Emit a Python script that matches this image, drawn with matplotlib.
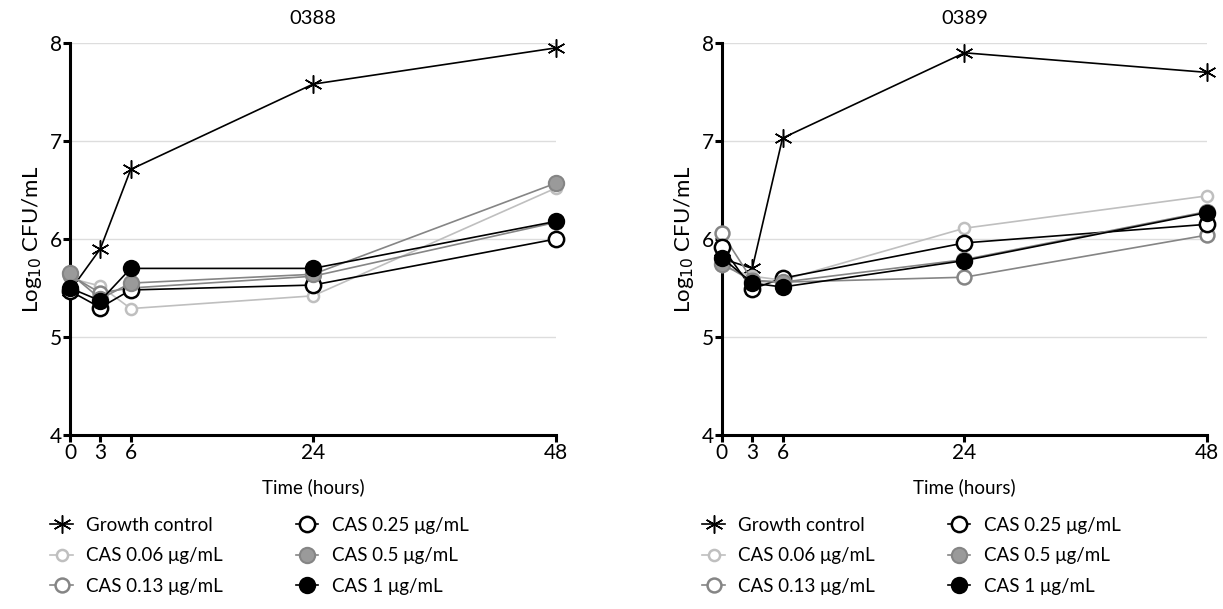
import matplotlib.pyplot as plt

plt.rcParams['font.family'] = ['Lato', 'DejaVu Sans']

# sampling times (hours)
times = [0, 3, 6, 24, 48]

labels = ["Growth control", "CAS 0.06 \u03bcg/mL", "CAS 0.13 \u03bcg/mL",
          "CAS 0.25 \u03bcg/mL", "CAS 0.5 \u03bcg/mL", "CAS 1 \u03bcg/mL"]

# isolate 0388, log10 CFU/mL
s0388_growth = [5.47, 5.90, 6.71, 7.58, 7.95]
s0388_cas006 = [5.60, 5.52, 5.29, 5.42, 6.52]
s0388_cas013 = [5.63, 5.45, 5.50, 5.62, 6.17]
s0388_cas025 = [5.47, 5.30, 5.48, 5.53, 6.00]
s0388_cas05 = [5.65, 5.39, 5.55, 5.64, 6.57]
s0388_cas1 = [5.50, 5.37, 5.70, 5.70, 6.18]

# isolate 0389
s0389_growth = [5.80, 5.70, 7.03, 7.90, 7.70]
s0389_cas006 = [5.72, 5.62, 5.58, 6.11, 6.44]
s0389_cas013 = [6.06, 5.58, 5.56, 5.61, 6.04]
s0389_cas025 = [5.92, 5.49, 5.60, 5.96, 6.15]
s0389_cas05 = [5.75, 5.57, 5.56, 5.79, 6.28]
s0389_cas1 = [5.81, 5.55, 5.51, 5.78, 6.27]

LIGHT = "#bfbfbf"
MID = "#858585"
DARK = "#9a9a9a"

# (color, marker, facecolor, markersize, edgewidth)
styles = [
    ("black", (6, 2, 0), "black", 13, 1.1),
    (LIGHT, "o", "white", 8, 1.8),
    (MID, "o", "white", 10, 1.8),
    ("black", "o", "white", 11, 1.8),
    (MID, "o", DARK, 11, 1.5),
    ("black", "o", "black", 11, 1.5),
]


def draw_panel(ax, title, series):
    for ys, lab, (c, m, fc, ms, mew) in zip(series, labels, styles):
        ax.plot(times, ys, color=c, lw=1.2, marker=m, markerfacecolor=fc,
                markeredgecolor=c, markersize=ms, markeredgewidth=mew,
                label=lab, clip_on=False, zorder=3)
    ax.set_xlim(0, 48)
    ax.set_ylim(4, 8)
    ax.set_xticks(times)
    ax.set_yticks([4, 5, 6, 7, 8])
    ax.yaxis.grid(True, color="#dddddd", lw=1)
    ax.set_axisbelow(True)
    for side in ["top", "right"]:
        ax.spines[side].set_visible(False)
    for side in ["left", "bottom"]:
        ax.spines[side].set_linewidth(2.2)
    ax.tick_params(width=2.2, length=5, labelsize=15, pad=1)
    ax.set_title(title, fontsize=14.5, pad=14)
    ax.set_xlabel("Time (hours)", fontsize=13.5, labelpad=11)
    ax.set_ylabel("Log$_{10}$ CFU/mL", fontsize=16, labelpad=4)
    ax.legend(ncol=2, loc="upper left", bbox_to_anchor=(-0.075, -0.165),
              frameon=False, fontsize=13.5, handlelength=1.2,
              columnspacing=3.9, labelspacing=0.72, handletextpad=0.7)


fig = plt.figure(figsize=(12.23, 6.09), dpi=100)
ax1 = fig.add_axes([0.0572, 0.2857, 0.3974, 0.6437])
ax2 = fig.add_axes([0.5903, 0.2857, 0.3966, 0.6437])

draw_panel(ax1, "0388", [s0388_growth, s0388_cas006, s0388_cas013,
                         s0388_cas025, s0388_cas05, s0388_cas1])
draw_panel(ax2, "0389", [s0389_growth, s0389_cas006, s0389_cas013,
                         s0389_cas025, s0389_cas05, s0389_cas1])

fig.savefig("out.png", dpi=100)
